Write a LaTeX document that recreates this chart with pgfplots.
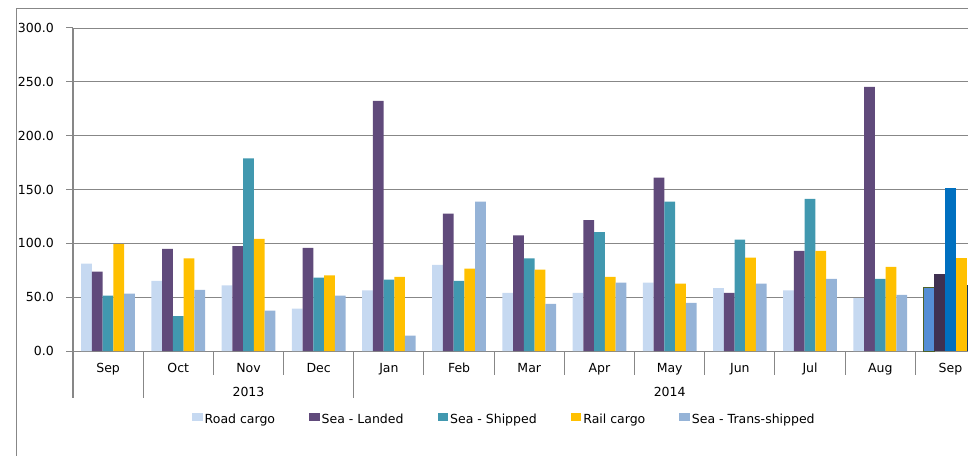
\documentclass[border=0pt]{standalone}
\usepackage{fontspec}
\setmainfont{DejaVu Sans}
\usepackage{pgfplots}
\pgfplotsset{compat=1.18}
\definecolor{gridc}{HTML}{878787}
\definecolor{roadc}{HTML}{C6D9F1}
\definecolor{landc}{HTML}{604A7B}
\definecolor{shipc}{HTML}{4198AF}
\definecolor{railc}{HTML}{FFC000}
\definecolor{transc}{HTML}{95B3D7}
\definecolor{roadl}{HTML}{558ED5}
\definecolor{roadlb}{HTML}{4F6228}
\definecolor{landl}{HTML}{3F3151}
\definecolor{shipl}{HTML}{0070C0}
\definecolor{transl}{HTML}{17375E}
\pgfplotsset{
  mybar/.style={ybar, bar width=0.153, draw=none,
    legend image code/.code={\fill[##1] (0pt,-1.2pt) rectangle (10.6pt,6.8pt);}},
}
\begin{document}
\begin{tikzpicture}
\useasboundingbox (0,0) rectangle (968pt,455pt);
\draw[gridc, line width=1pt] (16.7pt,-5pt) -- (16.7pt,446pt) -- (990pt,446pt);
\begin{axis}[
  at={(73pt,104pt)}, anchor=south west,
  scale only axis, width=895pt, height=323pt,
  xmin=-0.5, xmax=12.25, ymin=0, ymax=300,
  clip=false,
  font=\fontsize{12.5}{15}\selectfont,
  axis x line*=bottom, axis y line*=left,
  axis line style={-, gridc, line width=1pt},
  ytick={0,50,100,150,200,250,300},
  ymajorgrids, major grid style={gridc, line width=0.9pt},
  tick align=outside,
  major tick length=6.7pt,
  every tick/.style={gridc, line width=1pt},
  xtick={0,1,2,3,4,5,6,7,8,9,10,11,12},
  xticklabels={Sep,Oct,Nov,Dec,Jan,Feb,Mar,Apr,May,Jun,Jul,Aug,Sep},
  x tick style={draw=none},
  xticklabel style={anchor=base, yshift=-15pt},
  yticklabel style={anchor=east, xshift=-9pt, /pgf/number format/.cd, fixed, fixed zerofill, precision=1, assume math mode=true},
  legend columns=5,
  legend style={draw=none, fill=none, at={(0.482,-0.213)}, anchor=center,
    font=\fontsize{12.5}{15}\selectfont,
    /tikz/every even column/.append style={column sep=32pt},
    nodes={inner sep=2pt}},
]
\addplot[mybar, bar shift=-0.306, fill=roadc] coordinates {(0,81.2) (1,65.1) (2,61.0) (3,39.4) (4,56.4) (5,80.0) (6,53.9) (7,53.9) (8,63.5) (9,58.3) (10,56.4) (11,49.0)};
\addlegendentry{Road cargo}
\addplot[mybar, bar shift=-0.153, fill=landc] coordinates {(0,73.8) (1,94.8) (2,97.3) (3,95.8) (4,232.4) (5,127.7) (6,107.5) (7,121.5) (8,161.1) (9,53.9) (10,93.0) (11,245.4)};
\addlegendentry{Sea - Landed}
\addplot[mybar, bar shift=0, fill=shipc] coordinates {(0,51.4) (1,32.5) (2,178.8) (3,68.2) (4,66.3) (5,65.1) (6,86.1) (7,110.3) (8,138.8) (9,103.5) (10,141.3) (11,66.9)};
\addlegendentry{Sea - Shipped}
\addplot[mybar, bar shift=0.153, fill=railc] coordinates {(0,99.2) (1,86.1) (2,104.1) (3,70.3) (4,68.8) (5,76.5) (6,75.6) (7,68.8) (8,62.6) (9,86.8) (10,93.0) (11,78.1)};
\addlegendentry{Rail cargo}
\addplot[mybar, bar shift=0.306, fill=transc] coordinates {(0,53.3) (1,56.7) (2,37.5) (3,51.4) (4,14.3) (5,138.8) (6,43.7) (7,63.5) (8,44.6) (9,62.6) (10,66.9) (11,52.1)};
\addlegendentry{Sea - Trans-shipped}
% highlighted last group (Sep 2014)
\addplot[mybar, forget plot, bar shift=-0.306, fill=roadl, draw=roadlb, line width=0.8pt] coordinates {(12,58.9)};
\addplot[mybar, forget plot, bar shift=-0.153, fill=landl] coordinates {(12,71.3)};
\addplot[mybar, forget plot, bar shift=0, fill=shipl] coordinates {(12,151.8)};
\addplot[mybar, forget plot, bar shift=0.153, fill=railc] coordinates {(12,86.1)};
\addplot[mybar, forget plot, bar shift=0.306, fill=transl] coordinates {(12,61.0)};
% category dividers
\draw[gridc, line width=1pt] (axis cs:-0.5,0) -- ++(0pt,-47pt);
\draw[gridc, line width=1pt] (axis cs:0.5,0) -- ++(0pt,-47pt);
\draw[gridc, line width=1pt] (axis cs:3.5,0) -- ++(0pt,-47pt);
\draw[gridc, line width=1pt] (axis cs:1.5,0) -- ++(0pt,-24pt);
\draw[gridc, line width=1pt] (axis cs:2.5,0) -- ++(0pt,-24pt);
\draw[gridc, line width=1pt] (axis cs:4.5,0) -- ++(0pt,-24pt);
\draw[gridc, line width=1pt] (axis cs:5.5,0) -- ++(0pt,-24pt);
\draw[gridc, line width=1pt] (axis cs:6.5,0) -- ++(0pt,-24pt);
\draw[gridc, line width=1pt] (axis cs:7.5,0) -- ++(0pt,-24pt);
\draw[gridc, line width=1pt] (axis cs:8.5,0) -- ++(0pt,-24pt);
\draw[gridc, line width=1pt] (axis cs:9.5,0) -- ++(0pt,-24pt);
\draw[gridc, line width=1pt] (axis cs:10.5,0) -- ++(0pt,-24pt);
\draw[gridc, line width=1pt] (axis cs:11.5,0) -- ++(0pt,-24pt);
\node[anchor=base, yshift=-45pt] at (axis cs:2,0) {2013};
\node[anchor=base, yshift=-45pt] at (axis cs:8,0) {2014};
\end{axis}
\end{tikzpicture}
\end{document}
